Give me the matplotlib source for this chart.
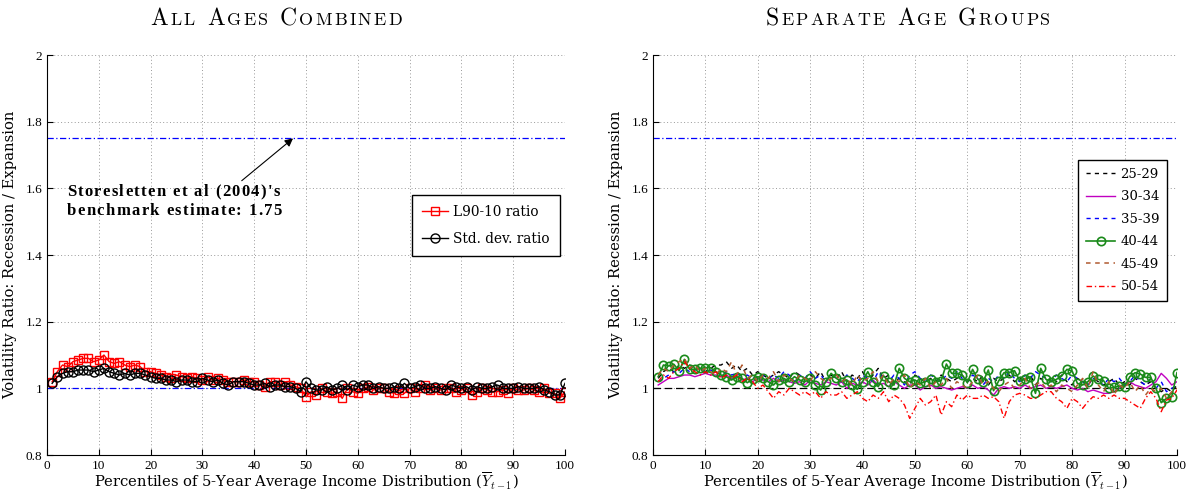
import numpy as np
import matplotlib
matplotlib.use("Agg")
import matplotlib.pyplot as plt
from matplotlib.offsetbox import TextArea, HPacker, VPacker, AnchoredOffsetbox

plt.rcParams['mathtext.fontset'] = 'cm'
plt.rcParams['axes.unicode_minus'] = False

# percentiles of the 5-year average income distribution
pct = np.arange(1, 101)

# left panel: all ages combined
l9010 = [1.02, 1.05, 1.07, 1.065, 1.08, 1.085, 1.09, 1.09, 1.08, 1.085,
         1.10, 1.08, 1.075, 1.08, 1.07, 1.065, 1.07, 1.065, 1.05, 1.05,
         1.045, 1.04, 1.035, 1.03, 1.04, 1.035, 1.03, 1.035, 1.03, 1.025,
         1.035, 1.025, 1.03, 1.025, 1.02, 1.02, 1.02, 1.025, 1.02, 1.02,
         1.01, 1.005, 1.02, 1.02, 1.01, 1.02, 1.01, 1.005, 1.00, 0.975,
         0.99, 0.98, 1.00, 0.99, 0.985, 0.99, 0.97, 1.00, 0.99, 0.985,
         1.00, 1.005, 0.995, 1.00, 1.00, 0.99, 0.985, 0.995, 0.985, 1.00,
         0.99, 1.00, 1.01, 0.995, 1.00, 0.995, 1.00, 1.00, 0.99, 0.995,
         1.00, 0.98, 0.99, 1.00, 0.995, 0.99, 0.99, 0.995, 0.985, 1.00,
         0.995, 0.995, 1.00, 0.995, 0.99, 1.00, 0.985, 0.985, 0.97, 0.99]
stddev = [1.015, 1.035, 1.045, 1.05, 1.05, 1.055, 1.055, 1.055, 1.05, 1.055,
          1.06, 1.05, 1.045, 1.04, 1.045, 1.04, 1.045, 1.045, 1.04, 1.035,
          1.03, 1.03, 1.025, 1.025, 1.02, 1.025, 1.025, 1.02, 1.02, 1.03,
          1.025, 1.02, 1.025, 1.015, 1.01, 1.02, 1.02, 1.02, 1.015, 1.01,
          1.01, 1.015, 1.005, 1.01, 1.01, 1.005, 1.005, 1.00, 0.99, 1.02,
          1.00, 0.995, 0.995, 1.005, 0.995, 1.00, 1.01, 0.995, 1.01, 1.005,
          1.01, 1.01, 1.00, 1.005, 1.00, 1.00, 1.005, 1.00, 1.015, 1.00,
          1.005, 1.01, 1.00, 1.00, 1.005, 1.00, 0.995, 1.01, 1.005, 1.00,
          1.005, 0.995, 1.005, 1.00, 1.00, 1.005, 1.01, 1.00, 1.00, 1.00,
          1.005, 1.00, 1.00, 1.00, 1.005, 0.995, 0.99, 0.98, 0.98, 1.015]

# right panel: separate age groups
age_labels = ["25-29", "30-34", "35-39", "40-44", "45-49", "50-54"]
age_25_29 = [1.03, 1.05, 1.06, 1.05, 1.07, 1.06, 1.07, 1.06, 1.06, 1.05,
             1.06, 1.07, 1.07, 1.08, 1.06, 1.07, 1.05, 1.06, 1.04, 1.05,
             1.04, 1.03, 1.04, 1.05, 1.04, 1.03, 1.05, 1.04, 1.03, 1.04,
             1.03, 1.05, 1.02, 1.04, 1.03, 1.05, 1.02, 1.04, 1.03, 1.05,
             1.02, 1.04, 1.06, 1.03, 1.04, 1.02, 1.03, 1.02, 1.01, 1.04,
             1.03, 1.02, 1.03, 1.02, 1.04, 1.03, 1.02, 1.03, 1.04, 1.02,
             1.03, 1.02, 1.04, 1.01, 1.03, 1.02, 1.03, 1.04, 1.02, 1.03,
             1.02, 1.04, 1.01, 1.03, 1.02, 1.03, 1.02, 1.04, 1.02, 1.01,
             1.03, 1.02, 1.01, 1.03, 1.02, 1.01, 1.02, 1.03, 1.01, 1.02,
             1.01, 1.03, 1.02, 1.01, 1.02, 1.00, 0.99, 1.00, 0.99, 1.01]
age_30_34 = [1.01, 1.02, 1.03, 1.03, 1.035, 1.04, 1.04, 1.035, 1.04, 1.045,
             1.04, 1.04, 1.035, 1.04, 1.03, 1.035, 1.025, 1.03, 1.02, 1.03,
             1.025, 1.02, 1.03, 1.02, 1.025, 1.02, 1.015, 1.02, 1.01, 1.025,
             1.015, 1.01, 1.02, 1.015, 1.01, 1.02, 1.00, 1.015, 1.01, 1.02,
             1.01, 1.025, 1.01, 1.015, 1.005, 1.02, 1.01, 1.00, 1.01, 1.01,
             0.995, 1.005, 1.01, 1.00, 1.005, 1.00, 0.995, 1.00, 1.005, 1.00,
             1.01, 1.00, 1.005, 0.995, 0.98, 1.00, 1.005, 1.00, 1.005, 1.00,
             1.01, 1.00, 1.005, 1.01, 1.00, 1.005, 1.00, 1.005, 1.01, 1.00,
             0.995, 1.00, 0.99, 0.995, 0.99, 0.985, 0.985, 0.99, 1.00, 1.01,
             1.02, 1.01, 1.005, 1.00, 1.01, 1.02, 1.045, 1.03, 1.01, 1.02]
age_35_39 = [1.02, 1.03, 1.04, 1.05, 1.045, 1.06, 1.05, 1.055, 1.06, 1.05,
             1.055, 1.05, 1.04, 1.05, 1.04, 1.045, 1.035, 1.04, 1.03, 1.035,
             1.04, 1.03, 1.04, 1.03, 1.05, 1.04, 1.02, 1.04, 1.03, 1.05,
             1.03, 1.04, 1.02, 1.04, 1.03, 1.02, 1.04, 1.03, 1.02, 1.04,
             1.03, 1.02, 1.05, 1.03, 1.02, 1.04, 1.03, 1.01, 1.04, 1.05,
             1.03, 1.02, 1.04, 1.03, 1.02, 1.04, 1.03, 1.05, 1.03, 1.02,
             1.04, 1.03, 1.01, 1.03, 1.02, 1.04, 1.03, 1.05, 1.03, 1.02,
             1.04, 1.03, 1.05, 1.04, 1.03, 1.02, 1.04, 1.03, 1.02, 1.04,
             1.03, 1.02, 1.01, 1.03, 1.02, 1.01, 1.03, 1.02, 1.03, 1.01,
             1.02, 1.04, 1.02, 1.01, 1.03, 1.00, 1.02, 0.99, 1.00, 1.01]
age_40_44 = [1.035, 1.07, 1.067, 1.072, 1.053, 1.087, 1.057, 1.057, 1.06, 1.062,
             1.062, 1.05, 1.04, 1.035, 1.025, 1.035, 1.03, 1.017, 1.027, 1.035,
             1.03, 1.02, 1.01, 1.025, 1.03, 1.02, 1.035, 1.025, 1.02, 1.03,
             1.01, 0.995, 1.02, 1.045, 1.03, 1.02, 1.025, 1.01, 0.997, 1.02,
             1.05, 1.02, 1.005, 1.038, 1.02, 1.01, 1.06, 1.03, 1.02, 1.025,
             1.015, 1.02, 1.027, 1.02, 1.023, 1.073, 1.045, 1.045, 1.04, 1.017,
             1.057, 1.027, 1.02, 1.055, 0.993, 1.023, 1.047, 1.047, 1.053, 1.023,
             1.027, 1.035, 0.985, 1.06, 1.027, 1.02, 1.027, 1.037, 1.057, 1.052,
             1.015, 1.01, 1.02, 1.037, 1.027, 1.023, 1.00, 1.003, 1.007, 1.005,
             1.035, 1.047, 1.043, 1.033, 1.033, 1.00, 0.957, 0.97, 0.975, 1.047]
age_45_49 = [1.04, 1.06, 1.05, 1.07, 1.08, 1.09, 1.06, 1.07, 1.05, 1.06,
             1.05, 1.04, 1.06, 1.05, 1.08, 1.04, 1.07, 1.03, 1.04, 1.02,
             1.04, 1.03, 1.05, 1.02, 1.04, 1.03, 1.02, 1.04, 1.03, 1.02,
             1.05, 1.03, 1.02, 1.03, 1.04, 1.02, 1.03, 1.01, 1.04, 1.02,
             1.03, 1.05, 1.02, 1.04, 1.01, 1.03, 1.02, 1.04, 1.00, 1.02,
             1.01, 1.03, 1.00, 1.02, 1.01, 1.03, 1.00, 1.02, 1.01, 1.00,
             1.02, 1.04, 1.01, 1.02, 1.00, 0.99, 1.01, 1.02, 1.00, 1.01,
             1.03, 1.00, 1.01, 1.02, 1.00, 1.01, 0.99, 1.01, 1.00, 0.99,
             1.01, 1.03, 1.00, 1.05, 1.01, 0.99, 1.02, 0.98, 1.01, 1.00,
             1.02, 0.99, 1.01, 0.98, 1.00, 0.99, 1.00, 0.97, 0.99, 1.00]
age_50_54 = [1.02, 1.04, 1.03, 1.05, 1.06, 1.08, 1.06, 1.05, 1.04, 1.05,
             1.04, 1.05, 1.03, 1.04, 1.03, 1.04, 1.02, 1.03, 1.02, 1.00,
             1.01, 0.99, 0.97, 0.99, 0.98, 1.00, 0.99, 0.98, 0.99, 0.98,
             0.99, 0.97, 0.99, 0.98, 0.98, 0.99, 0.97, 0.98, 0.99, 0.97,
             0.96, 0.98, 0.97, 0.99, 0.96, 0.98, 0.97, 0.95, 0.91, 0.94,
             0.97, 0.95, 0.96, 0.98, 0.92, 0.96, 0.945, 0.98, 0.965, 0.98,
             0.97, 0.97, 0.98, 0.97, 0.975, 0.96, 0.91, 0.96, 0.98, 0.985,
             0.98, 0.97, 0.97, 0.98, 0.99, 0.99, 0.97, 0.96, 0.94, 0.97,
             0.96, 0.94, 0.96, 0.975, 0.97, 0.98, 0.97, 0.98, 0.97, 0.97,
             0.96, 0.95, 0.94, 0.97, 0.99, 0.97, 0.93, 0.965, 0.97, 0.995]

benchmark = 1.75

xlabel = r"Percentiles of 5-Year Average Income Distribution ($\overline{Y}_{t-1}$)"
ylabel = "Volatility Ratio: Recession / Expansion"
label_font = dict(family="DejaVu Serif", fontsize=10.6)
tick_font = "Liberation Serif"


def spaced_line(text, props, sep, small_props=None):
    # one TextArea per character so that the letters can be spread apart;
    # with small_props, lower case letters become small capitals
    parts = []
    for ch in text:
        if small_props is not None and ch.islower():
            parts.append(TextArea(ch.upper(), textprops=small_props))
        else:
            parts.append(TextArea(ch if ch != " " else "\u00a0", textprops=props))
    return HPacker(children=parts, align="baseline", pad=0, sep=sep)


def place(box, fig_or_ax, xy, transform, loc="center"):
    anchored = AnchoredOffsetbox(loc=loc, child=box, frameon=False, pad=0,
                                 bbox_to_anchor=xy, bbox_transform=transform,
                                 borderpad=0)
    fig_or_ax.add_artist(anchored)


def style_axes(ax):
    ax.set_xlim(0, 100)
    ax.set_ylim(0.8, 2.0)
    ax.set_xticks(np.arange(0, 101, 10))
    ax.set_yticks([0.8, 1.0, 1.2, 1.4, 1.6, 1.8, 2.0])
    ax.set_yticklabels(["0.8", "1", "1.2", "1.4", "1.6", "1.8", "2"])
    ax.grid(True, linestyle=(0, (1, 2.5)), color="#999999", linewidth=0.7)
    ax.spines["top"].set_visible(False)
    ax.spines["right"].set_visible(False)
    ax.tick_params(direction="in", length=4, width=0.8, labelsize=9.5)
    for lab in ax.get_xticklabels() + ax.get_yticklabels():
        lab.set_family(tick_font)
    ax.set_xlabel(xlabel, labelpad=-1, **label_font)
    ax.set_ylabel(ylabel, labelpad=6, **label_font)


fig = plt.figure(figsize=(11.95, 4.98), dpi=100)
ax1 = fig.add_axes([0.0393, 0.0863, 0.4335, 0.8032])
ax2 = fig.add_axes([0.5464, 0.0863, 0.4385, 0.8032])

# ---- left panel ----
ax1.axhline(1.0, color="blue", linestyle="-.", linewidth=0.9, dashes=(5, 2, 1, 2))
ax1.axhline(benchmark, color="blue", linestyle="-.", linewidth=0.9, dashes=(5, 2, 1, 2))
ax1.plot(pct, l9010, color="red", linewidth=1.0, marker="s", markersize=5.5,
         markerfacecolor="none", markeredgewidth=1.0, label="L90-10 ratio")
ax1.plot(pct, stddev, color="black", linewidth=1.0, marker="o", markersize=6.5,
         markerfacecolor="none", markeredgewidth=1.0, label="Std. dev. ratio")
ax1.annotate("", xy=(47.5, benchmark), xytext=(37.6, 1.623),
             arrowprops=dict(arrowstyle="-|>", color="black", lw=0.8,
                             shrinkA=0, shrinkB=0, mutation_scale=12))
note_props = dict(family="Liberation Serif", fontweight="bold", fontsize=12)
note = VPacker(children=[spaced_line("Storesletten et al (2004)'s", note_props, 1.0),
                         spaced_line("benchmark estimate: 1.75", note_props, 1.0)],
               align="left", pad=0, sep=2)
place(note, ax1, (3.8, 1.612), ax1.transData, loc="upper left")
style_axes(ax1)
leg1 = ax1.legend(loc="upper right", bbox_to_anchor=(0.99, 0.65), fancybox=False,
                  edgecolor="black", framealpha=1,
                  prop=dict(family="DejaVu Serif", size=9.8), borderaxespad=0,
                  handlelength=1.9, borderpad=0.75, labelspacing=0.95, handletextpad=0.4)
leg1.get_frame().set_linewidth(1.0)

# ---- right panel ----
ax2.axhline(1.0, color="black", linestyle="--", linewidth=0.9, dashes=(6, 3))
ax2.axhline(benchmark, color="blue", linestyle="-.", linewidth=0.9, dashes=(5, 2, 1, 2))
ax2.plot(pct, age_25_29, color="black", linestyle="--", linewidth=1.0, dashes=(3, 3), label=age_labels[0])
ax2.plot(pct, age_30_34, color="#c000c0", linestyle="-", linewidth=1.0, label=age_labels[1])
ax2.plot(pct, age_35_39, color="blue", linestyle="--", linewidth=1.0, dashes=(3, 3), label=age_labels[2])
ax2.plot(pct, age_40_44, color="#1a8a1a", linestyle="-", linewidth=1.2, marker="o",
         markersize=6, markerfacecolor="none", markeredgewidth=1.2, label=age_labels[3])
ax2.plot(pct, age_45_49, color="#b05a30", linestyle="--", linewidth=1.1, dashes=(3, 3), label=age_labels[4])
ax2.plot(pct, age_50_54, color="red", linestyle="-.", linewidth=1.0, dashes=(4, 2, 1, 2), label=age_labels[5])
style_axes(ax2)
leg2 = ax2.legend(loc="upper right", bbox_to_anchor=(0.981, 0.7375), fancybox=False,
                  edgecolor="black", framealpha=1,
                  prop=dict(family="DejaVu Serif", size=9.5), borderaxespad=0,
                  handlelength=2.2, borderpad=0.6, labelspacing=0.72, handletextpad=0.4)
leg2.get_frame().set_linewidth(1.0)

# small-caps titles
big = dict(family="cmr10", fontsize=17)
small = dict(family="cmr10", fontsize=13)
place(spaced_line("All Ages Combined", big, 1.6, small), fig,
      (276 / 1195, 1 - 19 / 498), fig.transFigure)
place(spaced_line("Separate Age Groups", big, 1.6, small), fig,
      (908 / 1195, 1 - 19 / 498), fig.transFigure)

fig.savefig("out.png", dpi=100)
